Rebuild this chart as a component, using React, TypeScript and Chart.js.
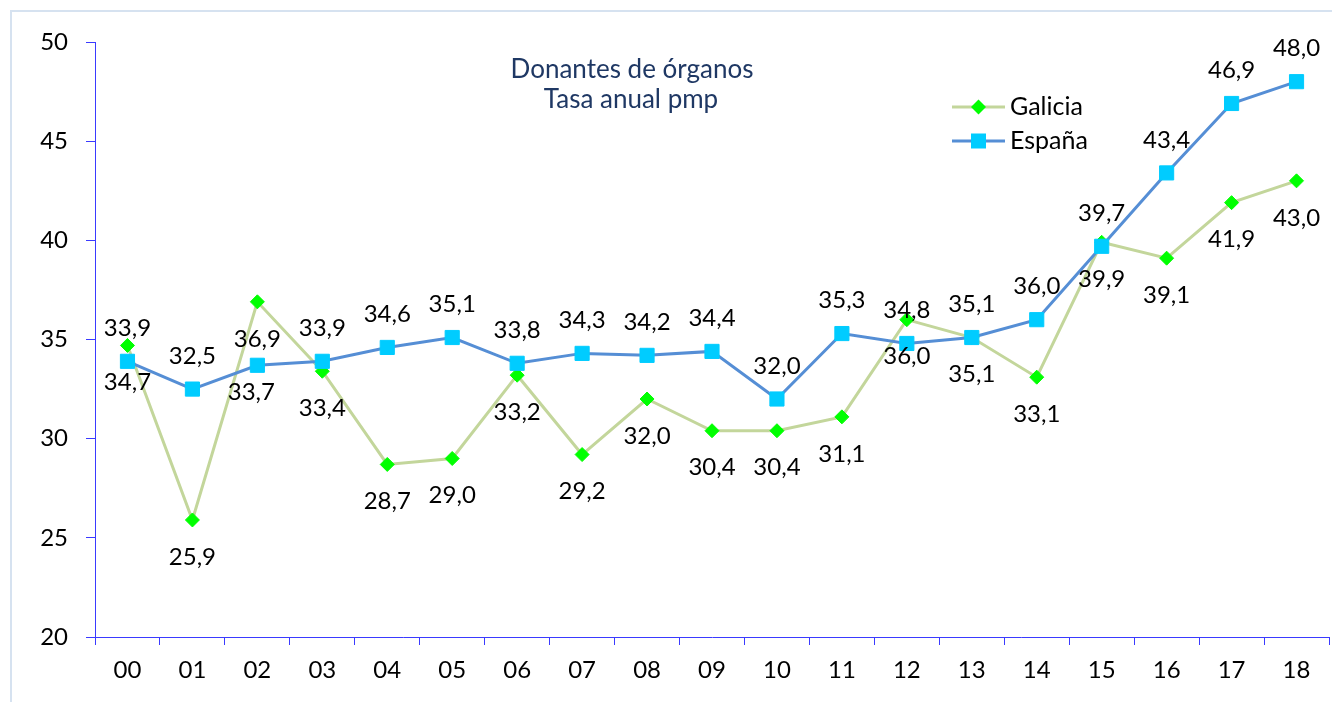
import React, { useEffect, useRef } from 'react';
import { Chart, registerables } from 'chart.js';

Chart.register(...registerables);

// ---------- data ----------
const categories = ['00', '01', '02', '03', '04', '05', '06', '07', '08', '09', '10', '11', '12', '13', '14', '15', '16', '17', '18'];
const galicia = [34.7, 25.9, 36.9, 33.4, 28.7, 29.0, 33.2, 29.2, 32.0, 30.4, 30.4, 31.1, 36.0, 35.1, 33.1, 39.9, 39.1, 41.9, 43.0];
const espana = [33.9, 32.5, 33.7, 33.9, 34.6, 35.1, 33.8, 34.3, 34.2, 34.4, 32.0, 35.3, 34.8, 35.1, 36.0, 39.7, 43.4, 46.9, 48.0];
const seriesNames = ['Galicia', 'España'];
const titleLines = ['Donantes de órganos', 'Tasa anual pmp'];
const yMin = 20;
const yMax = 50;
const yStep = 5;

// ---------- style ----------
const FONT = 'Lato, "Open Sans", sans-serif';
const AXIS = '#3a3aff';
const GAL_LINE = '#c3d69b';
const GAL_MARK = '#00ff00';
const ESP_LINE = '#558ed5';
const ESP_MARK = '#00ccff';
const NUM_SIZE = 24;

// label placement per dataset (px offsets from point)
const labelPlacement: { dx: number; dy: number }[][] = [
  categories.map(() => ({ dx: 0, dy: 37 })),
  categories.map((_, i) => (i === 2 ? { dx: -6, dy: 27 } : { dx: 0, dy: -33 })),
];

const fmt = (v: number) => v.toFixed(1).replace('.', ',');

const framePlugin = {
  id: 'frame',
  beforeDraw(chart: any) {
    const ctx = chart.ctx;
    ctx.save();
    ctx.strokeStyle = '#d6e2f0';
    ctx.lineWidth = 2;
    ctx.strokeRect(11, 11, 2000, 2000);
    ctx.restore();
  },
};

const labelsPlugin = {
  id: 'pointLabels',
  afterDatasetsDraw(chart: any) {
    const ctx = chart.ctx;
    ctx.save();
    ctx.font = `${NUM_SIZE}px ${FONT}`;
    ctx.fillStyle = '#000';
    ctx.textAlign = 'center';
    ctx.textBaseline = 'middle';
    chart.data.datasets.forEach((ds: any, di: number) => {
      const meta = chart.getDatasetMeta(di);
      meta.data.forEach((pt: any, i: number) => {
        const p = labelPlacement[di][i];
        ctx.fillText(fmt(ds.data[i]), pt.x + p.dx, pt.y + p.dy);
      });
    });
    ctx.restore();
  },
};

const overlayPlugin = {
  id: 'overlay',
  afterDraw(chart: any) {
    const ctx = chart.ctx;
    ctx.save();
    // title
    ctx.font = `26px ${FONT}`;
    ctx.fillStyle = '#1f3864';
    ctx.textAlign = 'center';
    ctx.textBaseline = 'middle';
    ctx.fillText(titleLines[0], 632, 70);
    ctx.fillText(titleLines[1], 631, 100);

    // legend
    const items = [
      { name: seriesNames[0], line: GAL_LINE, mark: GAL_MARK, style: 'diamond', y: 107 },
      { name: seriesNames[1], line: ESP_LINE, mark: ESP_MARK, style: 'square', y: 141 },
    ];
    items.forEach((it) => {
      ctx.strokeStyle = it.line;
      ctx.lineWidth = 3;
      ctx.beginPath();
      ctx.moveTo(952, it.y);
      ctx.lineTo(1005, it.y);
      ctx.stroke();
      ctx.fillStyle = it.mark;
      const cx = 978.5;
      if (it.style === 'diamond') {
        ctx.beginPath();
        ctx.moveTo(cx, it.y - 7.5);
        ctx.lineTo(cx + 7.5, it.y);
        ctx.lineTo(cx, it.y + 7.5);
        ctx.lineTo(cx - 7.5, it.y);
        ctx.closePath();
        ctx.fill();
      } else {
        ctx.fillRect(cx - 7.5, it.y - 7.5, 15, 15);
      }
      ctx.fillStyle = '#000';
      ctx.font = `25px ${FONT}`;
      ctx.textAlign = 'left';
      ctx.fillText(it.name, 1010, it.y);
    });
    ctx.restore();
  },
};

export default function App() {
  const ref = useRef<HTMLCanvasElement | null>(null);

  useEffect(() => {
    if (!ref.current) return;
    const chart = new Chart(ref.current, {
      type: 'line',
      data: {
        labels: categories,
        datasets: [
          {
            label: seriesNames[0],
            data: galicia,
            borderColor: GAL_LINE,
            borderWidth: 3,
            backgroundColor: GAL_MARK,
            pointStyle: 'rectRot',
            pointRadius: 7,
            pointBackgroundColor: GAL_MARK,
            pointBorderColor: GAL_MARK,
            pointBorderWidth: 1,
            pointHoverRadius: 7,
            tension: 0,
            order: 1,
          },
          {
            label: seriesNames[1],
            data: espana,
            borderColor: ESP_LINE,
            borderWidth: 3,
            backgroundColor: ESP_MARK,
            pointStyle: 'rect',
            pointRadius: 10,
            pointBackgroundColor: ESP_MARK,
            pointBorderColor: ESP_MARK,
            pointBorderWidth: 1,
            pointHoverRadius: 10,
            tension: 0,
            order: 0,
          },
        ],
      },
      options: {
        responsive: false,
        animation: false,
        devicePixelRatio: 1,
        events: [],
        layout: { padding: { top: 42, right: 5, bottom: 0, left: 0 } },
        plugins: {
          legend: { display: false },
          tooltip: { enabled: false },
          title: { display: false },
        },
        scales: {
          x: {
            type: 'category',
            offset: true,
            grid: {
              offset: true,
              drawOnChartArea: false,
              drawTicks: true,
              tickLength: 8,
              color: AXIS,
              lineWidth: 1,
            },
            border: { color: AXIS, width: 1 },
            ticks: {
              font: { family: FONT, size: NUM_SIZE },
              color: '#000',
              padding: 11,
              maxRotation: 0,
              autoSkip: false,
            },
            afterFit: (s: any) => {
              s.height = 65;
            },
          },
          y: {
            min: yMin,
            max: yMax,
            grid: {
              drawOnChartArea: false,
              drawTicks: true,
              tickLength: 9,
              color: AXIS,
              lineWidth: 1,
            },
            border: { color: AXIS, width: 1 },
            ticks: {
              stepSize: yStep,
              font: { family: FONT, size: NUM_SIZE },
              color: '#000',
              padding: 18,
            },
            afterFit: (s: any) => {
              s.width = 95;
            },
          },
        },
      },
      plugins: [framePlugin, labelsPlugin, overlayPlugin],
    });
    return () => chart.destroy();
  }, []);

  return (
    <div style={{ position: 'fixed', left: 0, top: 0, width: 1332, height: 702, overflow: 'hidden', background: '#fff' }}>
      <canvas ref={ref} width={1340} height={702} style={{ display: 'block' }} />
    </div>
  );
}
